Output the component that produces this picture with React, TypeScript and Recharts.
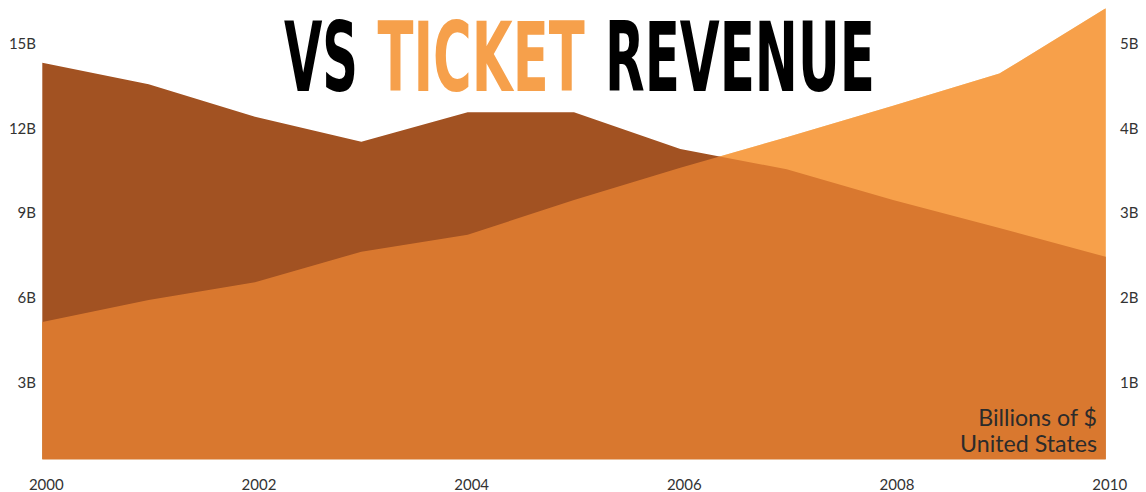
import React, { useLayoutEffect, useRef, useState } from 'react';
import { AreaChart, Area, XAxis, YAxis } from 'recharts';

const years = ['2000', '2001', '2002', '2003', '2004', '2005', '2006', '2007', '2008', '2009', '2010'];
// left axis (billions of $)
const dvdSales = [14.03, 13.27, 12.12, 11.24, 12.28, 12.28, 10.98, 10.27, 9.18, 8.19, 7.17];
// right axis (billions of $)
const ticketRevenue = [1.62, 1.88, 2.09, 2.45, 2.65, 3.06, 3.44, 3.8, 4.17, 4.55, 5.32];
const leftTicks = [3, 6, 9, 12, 15];
const rightTicks = [1, 2, 3, 4, 5];

const data = years.map((year, i) => ({ year, dvd: dvdSales[i], ticket: ticketRevenue[i] }));

const FONT = 'Lato, "Noto Sans", sans-serif';
const TICK_COLOR = '#333333';

const LeftTick = (props: any) => {
  const { x, y, payload } = props;
  return (
    <text x={x - 6.3} y={y + 8} dy="0.355em" textAnchor="end" fill={TICK_COLOR} fontSize={15} fontFamily={FONT}>
      {`${payload.value}B`}
    </text>
  );
};

const RightTick = (props: any) => {
  const { x, y, payload } = props;
  return (
    <text x={x + 14.3} y={y + 8} dy="0.355em" textAnchor="start" fill={TICK_COLOR} fontSize={15} fontFamily={FONT}>
      {`${payload.value}B`}
    </text>
  );
};

const BottomTick = (props: any) => {
  const { x, y, payload } = props;
  return (
    <text x={x + 4} y={y + 25} dy="0.355em" textAnchor="middle" fill={TICK_COLOR} fontSize={15} fontFamily={FONT}>
      {payload.value}
    </text>
  );
};

const TITLE_FONT = '"Liberation Sans Narrow", "DejaVu Sans Condensed", "DejaVu Sans", sans-serif';

// Text horizontally scaled so its ink spans exactly [x, x + width]
const FitText = ({ x, y, width, fill, children }: { x: number; y: number; width: number; fill: string; children: string }) => {
  const ref = useRef<SVGTextElement>(null);
  const [sx, setSx] = useState(1);
  const [bx, setBx] = useState(0);
  useLayoutEffect(() => {
    if (ref.current) {
      const bb = ref.current.getBBox();
      if (bb.width > 0) {
        setSx(width / bb.width);
        setBx(bb.x);
      }
    }
  }, [width]);
  return (
    <g transform={`translate(${x},${y}) scale(${sx},1) translate(${-bx},0)`}>
      <text ref={ref} x={0} y={0} fontFamily={TITLE_FONT} fontWeight="bold" fontSize={97} fill={fill}>
        {children}
      </text>
    </g>
  );
};

export default function App() {
  return (
    <div style={{ position: 'absolute', left: 0, top: 0, width: 1146, height: 492, background: '#ffffff' }}>
      <AreaChart width={1146} height={492} data={data} margin={{ top: 8.3, right: 0, bottom: 0, left: 0 }}>
        <XAxis
          dataKey="year"
          height={32.5}
          axisLine={false}
          tickLine={false}
          tickSize={0}
          tickMargin={0}
          interval={1}
          tick={<BottomTick />}
        />
        <YAxis
          yAxisId="left"
          orientation="left"
          width={42.3}
          domain={[0, 15.96]}
          ticks={leftTicks}
          allowDataOverflow
          axisLine={false}
          tickLine={false}
          tickSize={0}
          tickMargin={0}
          tick={<LeftTick />}
        />
        <YAxis
          yAxisId="right"
          orientation="right"
          width={40.3}
          domain={[0, 5.32]}
          ticks={rightTicks}
          allowDataOverflow
          axisLine={false}
          tickLine={false}
          tickSize={0}
          tickMargin={0}
          tick={<RightTick />}
        />
        <Area
          yAxisId="right"
          type="linear"
          dataKey="ticket"
          stroke="none"
          fill="#f3be6b"
          fillOpacity={1}
          isAnimationActive={false}
        />
        <Area
          yAxisId="left"
          type="linear"
          dataKey="dvd"
          stroke="none"
          fill="#a25222"
          fillOpacity={1}
          isAnimationActive={false}
        />
        <Area
          yAxisId="right"
          type="linear"
          dataKey="ticket"
          stroke="none"
          fill="#f88e38"
          fillOpacity={0.63}
          isAnimationActive={false}
        />
      </AreaChart>
      <svg
        width={1146}
        height={492}
        style={{ position: 'absolute', left: 0, top: 0, pointerEvents: 'none' }}
      >
        <FitText x={284} y={90.7} width={74} fill="#000000">VS</FitText>
        <FitText x={377.5} y={90.7} width={207.5} fill="#f6a04b">TICKET</FitText>
        <FitText x={605} y={90.7} width={270} fill="#000000">REVENUE</FitText>
        <text x={1097} y={426} textAnchor="end" fontFamily={FONT} fontSize={23.2} fill="#2b2b2b">
          Billions of $
        </text>
        <text x={1097} y={451.7} textAnchor="end" fontFamily={FONT} fontSize={23.2} fill="#2b2b2b">
          United States
        </text>
      </svg>
    </div>
  );
}
